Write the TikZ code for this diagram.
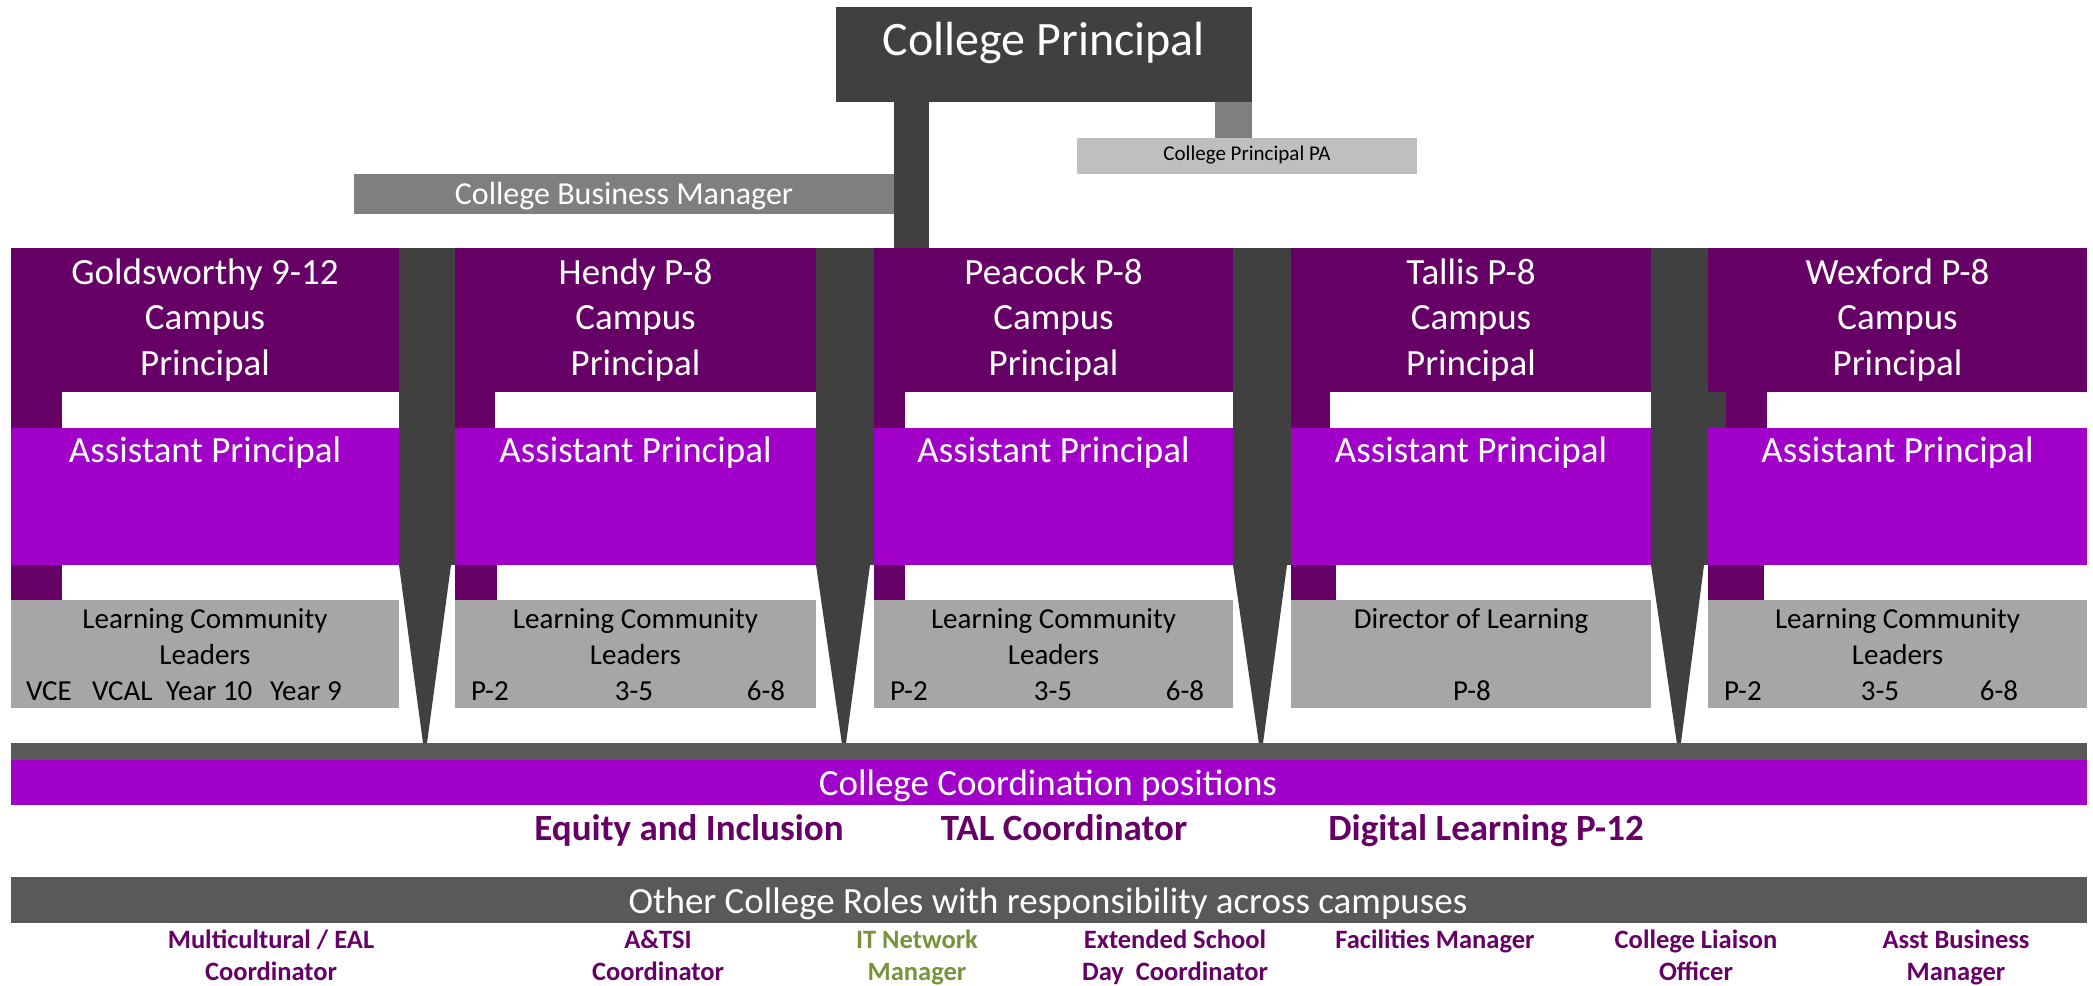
\documentclass[tikz,border=0pt]{standalone}
\usepackage{fontspec}
\setmainfont{Carlito}
\definecolor{dpurple}{HTML}{660066}
\definecolor{apurple}{HTML}{A100C8}
\definecolor{lgray}{HTML}{A6A6A6}
\definecolor{dgray}{HTML}{404040}
\definecolor{mgray}{HTML}{595959}
\definecolor{bmgray}{HTML}{7F7F7F}
\definecolor{pagray}{HTML}{BFBFBF}
\definecolor{olivegreen}{HTML}{77933C}
\newcommand\bx[6]{\node[box,fill=#2,minimum width={(#5-#3)*1pt},minimum height={(#6-#4)*1pt}] (#1) at (#3,#4) {};}
\begin{document}
\begin{tikzpicture}[x=1pt,y=-1pt,
  box/.style={inner sep=0pt,outer sep=0pt,anchor=north west,draw=none},
  t/.style={inner sep=0pt,outer sep=0pt,anchor=base},
  tw/.style={inner sep=0pt,outer sep=0pt,anchor=base west},
  big/.style={font=\fontsize{37}{44}\selectfont},
  huge/.style={font=\fontsize{48}{58}\selectfont},
  mid/.style={font=\fontsize{32}{38}\selectfont},
  small/.style={font=\fontsize{21}{25}\selectfont},
  lcl/.style={font=\fontsize{29}{35}\selectfont},
  bbig/.style={font=\fontsize{37}{44}\selectfont\bfseries,text=dpurple},
  role/.style={font=\fontsize{26.5}{32}\selectfont\bfseries,text=dpurple},
]
\useasboundingbox (0,0) rectangle (2093,985);
% top
\bx{CP}{dgray}{836}{7}{1252}{102}
\bx{PA}{pagray}{1077}{138}{1417}{174}
\bx{CBM}{bmgray}{354}{174}{894}{214}
% campuses
\bx{G}{dpurple}{11}{248}{399}{392}
\bx{H}{dpurple}{455}{248}{816}{392}
\bx{P}{dpurple}{874}{248}{1233}{392}
\bx{T}{dpurple}{1291}{248}{1651}{392}
\bx{W}{dpurple}{1708}{248}{2087}{392}
\bx{GA}{apurple}{11}{428}{399}{565}
\bx{HA}{apurple}{455}{428}{816}{565}
\bx{PAP}{apurple}{874}{428}{1233}{565}
\bx{TA}{apurple}{1291}{428}{1651}{565}
\bx{WA}{apurple}{1708}{428}{2087}{565}
\bx{GL}{lgray}{11}{600}{399}{708}
\bx{HL}{lgray}{455}{600}{816}{708}
\bx{PL}{lgray}{874}{600}{1233}{708}
\bx{TL}{lgray}{1291}{600}{1651}{708}
\bx{WL}{lgray}{1708}{600}{2087}{708}
% connectors
\coordinate (s2) at (929,248);
\fill[dgray] (CBM.north east |- CP.south) rectangle (s2);
\fill[bmgray] ([xshift=-37pt]CP.south east) rectangle (PA.north -| CP.east);
\coordinate (t1) at (425,758);
\coordinate (t2) at (844,758);
\coordinate (t3) at (1261,758);
\coordinate (t4) at (1679,758);
\fill[dgray] (G.north east) rectangle (HA.south west);
\fill[dgray] (GA.south east) -- ([xshift=-4pt]HA.south west) -- (t1) -- cycle;
\fill[dgray] (H.north east) rectangle (PAP.south west);
\fill[dgray] (HA.south east) -- ([xshift=-4pt]PAP.south west) -- (t2) -- cycle;
\fill[dgray] (P.north east) rectangle (TA.south west);
\fill[dgray] (PAP.south east) -- ([xshift=-4pt]TA.south west) -- (t3) -- cycle;
\fill[dgray] (T.north east) rectangle (WA.south west);
\fill[dgray] (TA.south east) -- ([xshift=-4pt]WA.south west) -- (t4) -- cycle;
\fill[dgray] (W.south west) rectangle ([xshift=18pt]WA.north west);
% strips
\fill[dpurple] (G.south west) rectangle ([xshift=51pt]GA.north west);
\fill[dpurple] (H.south west) rectangle ([xshift=40pt]HA.north west);
\fill[dpurple] (P.south west) rectangle ([xshift=31pt]PAP.north west);
\fill[dpurple] (T.south west) rectangle ([xshift=39pt]TA.north west);
\fill[dpurple] ([xshift=18pt]W.south west) rectangle ([xshift=59pt]WA.north west);
\fill[dpurple] (GA.south west) rectangle ([xshift=51pt]GL.north west);
\fill[dpurple] (HA.south west) rectangle ([xshift=42pt]HL.north west);
\fill[dpurple] (PAP.south west) rectangle ([xshift=31pt]PL.north west);
\fill[dpurple] (TA.south west) rectangle ([xshift=45pt]TL.north west);
\fill[dpurple] (WA.south west) rectangle ([xshift=56pt]WL.north west);
% bottom bars
\bx{CB}{mgray}{11}{743}{2087}{760}
\bx{CC}{apurple}{11}{760}{2087}{805}
\bx{OR}{mgray}{11}{877}{2087}{923}
% texts top
\node[t,huge,white] (CPt) at (1044,55) {College Principal};
\node[t,mid,white] (CBMt) at (624,204) {College Business Manager};
\node[t,small] (PAt) at (1247,160) {College Principal PA};
% campus texts
\foreach \n/\cx/\a in {G/205/Goldsworthy 9-12,H/635.5/Hendy P-8,P/1053.5/Peacock P-8,T/1471/Tallis P-8,W/1897.5/Wexford P-8}{
  \node[t,big,white] (\n1) at (\cx,284) {\a};
  \node[t,big,white] (\n2) at (\cx,329.5) {Campus};
  \node[t,big,white] (\n3) at (\cx,375) {Principal};
  \node[t,big,white] (\n4) at (\cx,462.7) {Assistant Principal};
}
\foreach \n/\cx in {G/205,H/635.5,P/1053.5,W/1897.5}{
  \node[t,lcl] (\n5) at (\cx,628) {Learning Community};
  \node[t,lcl] (\n6) at (\cx,664) {Leaders};
}
\node[t,lcl] (T5) at (1471,628) {Director of Learning};
\node[t,lcl] (T7) at (1472,700) {P-8};
\node[tw,lcl] (Gv1) at (26,700) {VCE};
\node[tw,lcl] (Gv2) at (92,700) {VCAL};
\node[tw,lcl] (Gv3) at (166,700) {Year 10};
\node[tw,lcl] (Gv4) at (270,700) {Year 9};
\node[tw,lcl] (Hv1) at (471,700) {P-2};
\node[t,lcl] (Hv2) at (634,700) {3-5};
\node[t,lcl] (Hv3) at (766,700) {6-8};
\node[tw,lcl] (Pv1) at (890,700) {P-2};
\node[t,lcl] (Pv2) at (1053,700) {3-5};
\node[t,lcl] (Pv3) at (1185,700) {6-8};
\node[tw,lcl] (Wv1) at (1724,700) {P-2};
\node[t,lcl] (Wv2) at (1880,700) {3-5};
\node[t,lcl] (Wv3) at (1999,700) {6-8};
% coordination
\node[t,big,white] (CCt) at (1048,795) {College Coordination positions};
\node[t,bbig] (EI) at (689,840) {Equity and Inclusion};
\node[t,bbig] (TAL) at (1064,840) {TAL Coordinator};
\node[t,bbig] (DL) at (1486,840) {Digital Learning P-12};
\node[t,big,white] (ORt) at (1048,913) {Other College Roles with responsibility across campuses};
% roles
\node[t,role] (r1a) at (271,948) {Multicultural / EAL};
\node[t,role] (r1b) at (271,980.5) {Coordinator};
\node[t,role] (r2a) at (658,948) {A\&TSI};
\node[t,role] (r2b) at (658,980.5) {Coordinator};
\node[t,role,text=olivegreen] (r3a) at (917,948) {IT Network};
\node[t,role,text=olivegreen] (r3b) at (917,980.5) {Manager};
\node[t,role] (r4a) at (1175,948) {Extended School};
\node[t,role] (r4b) at (1175,980.5) {Day\ \ Coordinator};
\node[t,role] (r5a) at (1435,948) {Facilities Manager};
\node[t,role] (r6a) at (1696,948) {College Liaison};
\node[t,role] (r6b) at (1696,980.5) {Officer};
\node[t,role] (r7a) at (1956,948) {Asst Business};
\node[t,role] (r7b) at (1956,980.5) {Manager};
\end{tikzpicture}
\end{document}
